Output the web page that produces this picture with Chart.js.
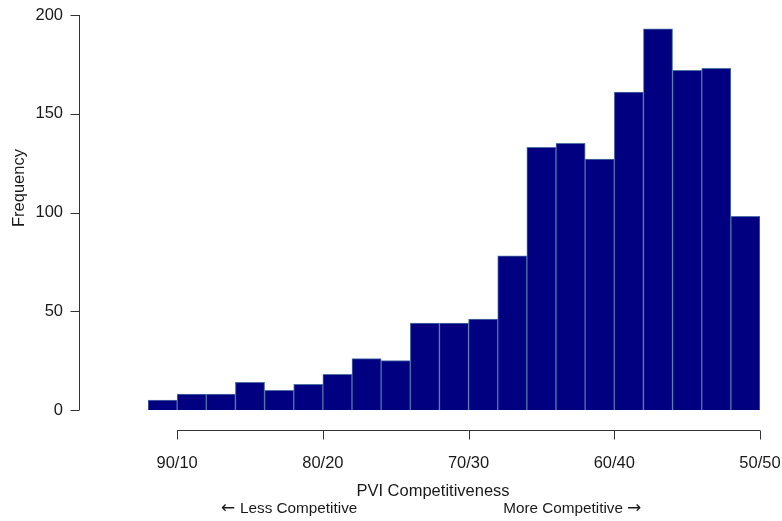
<!DOCTYPE html>
<html lang="en">
  <head>
    <meta charset="UTF-8" />
    <title>PVI Competitiveness</title>
    <script src="https://cdn.jsdelivr.net/npm/chart.js"></script>
    <style>
      html, body { margin: 0; padding: 0; background: #fff; }
      .box { width: 782px; height: 521px; position: relative; }
    </style>
  </head>
  <body>
    <div class="box">
      <canvas id="chart_pvi"></canvas>
    </div>

    <script>
      // bin centres (share of the larger party, bins 2 points wide)
      const binCenters = [91, 89, 87, 85, 83, 81, 79, 77, 75, 73, 71, 69, 67, 65, 63, 61, 59, 57, 55, 53, 51];
      const frequency = [5, 8, 8, 14, 10, 13, 18, 26, 25, 44, 44, 46, 78, 133, 135, 127, 161, 193, 172, 173, 98];

      const xTickValues = [90, 80, 70, 60, 50];
      const xTickLabels = ['90/10', '80/20', '70/30', '60/40', '50/50'];
      const yTickValues = [0, 50, 100, 150, 200];

      const TICK_FONT = '16.5px "Liberation Sans", Arial, sans-serif';
      const TITLE_FONT = '16.5px "Liberation Sans", Arial, sans-serif';
      const NOTE_FONT = '15.3px "Liberation Sans", Arial, sans-serif';
      const ARROW_FONT = '17px "DejaVu Sans", sans-serif';
      const AXIS = '#333333';
      const TEXT = '#1a1a1a';

      // R-style detached axes, drawn from the chart's own scales
      const rAxes = {
        id: 'rAxes',
        afterDraw(chart) {
          const ctx = chart.ctx;
          const x = chart.scales.x;
          const y = chart.scales.y;
          ctx.save();
          ctx.strokeStyle = AXIS;
          ctx.lineWidth = 1;
          ctx.fillStyle = TEXT;
          ctx.font = TICK_FONT;

          // y axis
          const ax = 79.5;
          ctx.beginPath();
          ctx.moveTo(ax, y.getPixelForValue(200));
          ctx.lineTo(ax, y.getPixelForValue(0));
          yTickValues.forEach((v) => {
            const py = Math.round(y.getPixelForValue(v)) + 0.5;
            ctx.moveTo(ax, py);
            ctx.lineTo(ax - 9, py);
          });
          ctx.stroke();
          ctx.textAlign = 'right';
          ctx.textBaseline = 'middle';
          yTickValues.forEach((v) => {
            ctx.fillText(String(v), 63, y.getPixelForValue(v));
          });

          // x axis
          const ay = 430.5;
          ctx.beginPath();
          ctx.moveTo(x.getPixelForValue(90), ay);
          ctx.lineTo(x.getPixelForValue(50), ay);
          xTickValues.forEach((v) => {
            const px = Math.round(x.getPixelForValue(v)) + 0.5;
            ctx.moveTo(px, ay);
            ctx.lineTo(px, ay + 9);
          });
          ctx.stroke();
          ctx.textAlign = 'center';
          xTickValues.forEach((v, i) => {
            ctx.fillText(xTickLabels[i], x.getPixelForValue(v), 463);
          });

          // titles
          ctx.font = TITLE_FONT;
          ctx.fillText('PVI Competitiveness', 433, 491);
          ctx.font = NOTE_FONT;
          ctx.textAlign = 'left';
          ctx.fillText('Less Competitive', 240, 509);
          ctx.textAlign = 'right';
          ctx.fillText('More Competitive', 623, 509);
          ctx.font = ARROW_FONT;
          ctx.textAlign = 'left';
          ctx.fillText('\u2190', 221, 509);
          ctx.fillText('\u2192', 627, 509);

          ctx.font = TITLE_FONT;
          ctx.textAlign = 'center';
          ctx.translate(19, 188);
          ctx.rotate(-Math.PI / 2);
          ctx.fillText('Frequency', 0, 0);
          ctx.restore();
        },
      };

      new Chart(document.getElementById('chart_pvi'), {
        type: 'bar',
        data: {
          datasets: [
            {
              label: 'Frequency',
              data: binCenters.map((c, i) => ({ x: c, y: frequency[i] })),
              backgroundColor: '#000080',
              borderColor: '#4f73a6',
              borderWidth: 1,
              barPercentage: 1,
              categoryPercentage: 1,
            },
          ],
        },
        options: {
          responsive: true,
          maintainAspectRatio: false,
          animation: false,
          layout: { padding: { left: 148, right: 22, top: 15, bottom: 111 } },
          plugins: { legend: { display: false }, tooltip: { enabled: false } },
          scales: {
            x: { type: 'linear', min: 50, max: 92, reverse: true, offset: false, display: false },
            y: { min: 0, max: 200, display: false },
          },
        },
        plugins: [rAxes],
      });
    </script>
  </body>
</html>
